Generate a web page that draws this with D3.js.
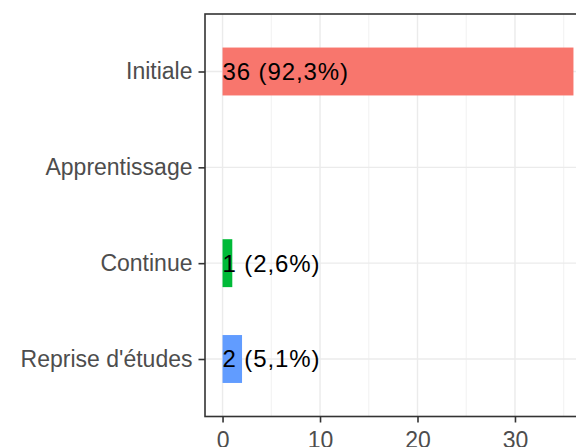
<!DOCTYPE html>
<html>
<head>
<meta charset="utf-8">
<script src="https://cdn.jsdelivr.net/npm/d3@7"></script>
<style>
  body { margin: 0; background: #fff; }
  svg { display: block; font-family: "Liberation Sans", Arial, sans-serif; }
</style>
</head>
<body>
<div id="chart"></div>
<script>
(function(){
    'use strict';

    var categories = ["Initiale", "Apprentissage", "Continue", "Reprise d'études"],
        counts = [36, 0, 1, 2],
        labels = ["36 (92,3%)", "", "1 (2,6%)", "2 (5,1%)"],
        fills = ["#F8766D", null, "#00BA38", "#619CFF"],
        xTicks = [0, 10, 20, 30],
        xMinor = [5, 15, 25, 35];

    var width = 576, height = 447,
        panel = { left: 205, top: 14, bottom: 416.5, right: 591 };

    var svg = d3.select("#chart").append("svg")
        .attr("width", width)
        .attr("height", height);

    var x = d3.scaleLinear()
        .domain([-1.8, 37.8])
        .range([panel.left, panel.right]);

    var y = d3.scalePoint()
        .domain(categories)
        .range([panel.top, panel.bottom])
        .padding(0.6);

    var barH = y.step() * 0.5;

    // gridlines
    svg.selectAll(".minor").data(xMinor).enter().append("line")
        .attr("x1", function(d){ return x(d); }).attr("x2", function(d){ return x(d); })
        .attr("y1", panel.top).attr("y2", panel.bottom)
        .style("stroke", "#EBEBEB").style("stroke-width", 0.7);

    svg.selectAll(".major").data(xTicks).enter().append("line")
        .attr("x1", function(d){ return x(d); }).attr("x2", function(d){ return x(d); })
        .attr("y1", panel.top).attr("y2", panel.bottom)
        .style("stroke", "#EBEBEB").style("stroke-width", 1.4);

    svg.selectAll(".ymajor").data(categories).enter().append("line")
        .attr("x1", panel.left).attr("x2", panel.right)
        .attr("y1", function(d){ return y(d); }).attr("y2", function(d){ return y(d); })
        .style("stroke", "#EBEBEB").style("stroke-width", 1.4);

    // bars
    var rows = categories.map(function(c, i){
        return { cat: c, n: counts[i], label: labels[i], fill: fills[i] };
    });

    svg.selectAll(".bar").data(rows.filter(function(d){ return d.n > 0; }))
        .enter().append("rect")
        .attr("x", x(0))
        .attr("y", function(d){ return y(d.cat) - barH / 2; })
        .attr("width", function(d){ return x(d.n) - x(0); })
        .attr("height", barH)
        .style("fill", function(d){ return d.fill; });

    svg.selectAll(".lbl").data(rows.filter(function(d){ return d.label; }))
        .enter().append("text")
        .attr("x", x(0))
        .attr("y", function(d){ return y(d.cat); })
        .attr("dy", "0.35em")
        .style("font-size", "24px")
        .style("letter-spacing", "0.9px")
        .style("fill", "#000")
        .text(function(d){ return d.label; });

    // panel border
    svg.append("rect")
        .attr("x", panel.left).attr("y", panel.top)
        .attr("width", panel.right - panel.left)
        .attr("height", panel.bottom - panel.top)
        .style("fill", "none").style("stroke", "#333333").style("stroke-width", 1.6);

    // axes
    var xAxis = svg.append("g")
        .attr("transform", "translate(0," + panel.bottom + ")")
        .call(d3.axisBottom(x).tickValues(xTicks).tickSize(6).tickPadding(9));
    var yAxis = svg.append("g")
        .attr("transform", "translate(" + panel.left + ",0)")
        .call(d3.axisLeft(y).tickSize(6.5).tickPadding(6));

    [xAxis, yAxis].forEach(function(g){
        g.select(".domain").remove();
        g.selectAll(".tick line").style("stroke", "#333333").style("stroke-width", 1.6);
        g.selectAll(".tick text").style("fill", "#4D4D4D").style("font-size", "23px")
            .style("font-family", "'Liberation Sans', Arial, sans-serif");
    });
})();
</script>
</body>
</html>
